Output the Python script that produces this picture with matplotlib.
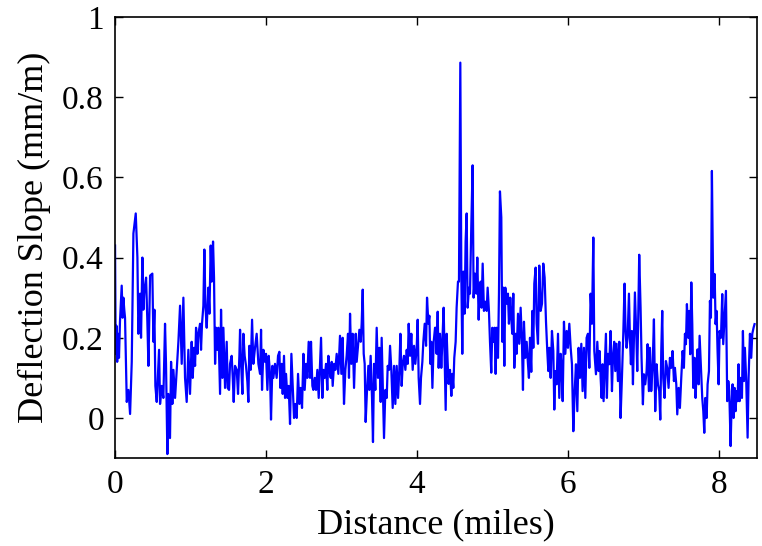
import matplotlib
matplotlib.use("Agg")
import matplotlib.pyplot as plt
import numpy as np

# distance (miles) and deflection slope (mm/m)
distance = [
    0.000, 0.008, 0.018, 0.028, 0.040, 0.052, 0.065, 0.078, 0.088, 0.100,
    0.110, 0.122, 0.132, 0.155, 0.177, 0.199, 0.221, 0.243, 0.274, 0.296,
    0.309, 0.331, 0.344, 0.362, 0.375, 0.389, 0.411, 0.428, 0.442, 0.464,
    0.494, 0.508, 0.521, 0.534, 0.552, 0.583, 0.596, 0.618, 0.640, 0.662,
    0.675, 0.693, 0.706, 0.728, 0.742, 0.759, 0.773, 0.795, 0.817, 0.839,
    0.861, 0.883, 0.905, 0.927, 0.949, 0.971, 0.993,
    1.015, 1.029, 1.046, 1.060, 1.073, 1.091, 1.104, 1.126, 1.139, 1.152,
    1.170, 1.183, 1.197, 1.214, 1.236, 1.250, 1.267, 1.280, 1.298, 1.311,
    1.325, 1.338, 1.355, 1.369, 1.391, 1.404, 1.422, 1.435, 1.457, 1.479,
    1.492, 1.510, 1.523, 1.545, 1.559, 1.572, 1.589, 1.612, 1.629, 1.647,
    1.656, 1.669, 1.687, 1.700, 1.717, 1.735, 1.753, 1.766, 1.779, 1.797,
    1.815, 1.832, 1.854, 1.876, 1.899, 1.921, 1.934, 1.947, 1.965, 1.987,
    2.000, 2.018, 2.035, 2.053, 2.066, 2.084, 2.097, 2.119,
    2.141, 2.159, 2.177, 2.190, 2.208, 2.221, 2.238, 2.252, 2.265, 2.283,
    2.300, 2.318, 2.336, 2.353, 2.371, 2.389, 2.406, 2.424, 2.442, 2.459,
    2.477, 2.495, 2.512, 2.530, 2.547, 2.565, 2.583, 2.596, 2.614, 2.627,
    2.645, 2.662, 2.680, 2.698, 2.715, 2.729, 2.746, 2.759, 2.777, 2.795,
    2.812, 2.826, 2.839, 2.857, 2.870, 2.883, 2.901, 2.918, 2.936, 2.958,
    2.980, 2.998, 3.015, 3.033, 3.051, 3.068, 3.086, 3.099, 3.113, 3.130,
    3.148, 3.166,
    3.188, 3.201, 3.219, 3.237, 3.254, 3.267, 3.281, 3.294, 3.307, 3.320,
    3.338, 3.356, 3.369, 3.386, 3.404, 3.417, 3.431, 3.448, 3.466, 3.484,
    3.501, 3.519, 3.532, 3.550, 3.563, 3.581, 3.599, 3.612, 3.630, 3.643,
    3.660, 3.678, 3.696, 3.713, 3.731, 3.749, 3.766, 3.780, 3.797, 3.811,
    3.828, 3.846, 3.864, 3.877, 3.890, 3.908, 3.925, 3.943, 3.961, 3.978,
    3.996, 4.009, 4.022, 4.040, 4.053, 4.071, 4.084, 4.102, 4.120, 4.133,
    4.151, 4.164, 4.177, 4.190, 4.204, 4.221, 4.239,
    4.247, 4.260, 4.274, 4.287, 4.305, 4.322, 4.335, 4.353, 4.366, 4.380,
    4.393, 4.406, 4.419, 4.437, 4.455, 4.468, 4.481, 4.494, 4.512, 4.525,
    4.543, 4.556, 4.574, 4.587, 4.600, 4.614, 4.631, 4.644, 4.658, 4.671,
    4.689, 4.702, 4.719, 4.737, 4.750, 4.768, 4.786, 4.799, 4.817, 4.830,
    4.843, 4.856, 4.870, 4.887, 4.905, 4.923, 4.936, 4.953, 4.967, 4.984,
    4.998, 5.011, 5.029, 5.042, 5.055, 5.073, 5.086, 5.099, 5.117, 5.130,
    5.143, 5.157, 5.170, 5.187, 5.205, 5.218, 5.236, 5.249, 5.262, 5.276,
    5.289,
    5.307, 5.320, 5.338, 5.355, 5.373, 5.391, 5.404, 5.417, 5.435, 5.453,
    5.470, 5.483, 5.497, 5.514, 5.528, 5.541, 5.554, 5.572, 5.585, 5.603,
    5.620, 5.638, 5.656, 5.673, 5.691, 5.709, 5.726, 5.740, 5.753, 5.771,
    5.788, 5.806, 5.819, 5.832, 5.850, 5.868, 5.885, 5.903, 5.916, 5.930,
    5.947, 5.965, 5.983, 6.000, 6.018, 6.036, 6.053, 6.071, 6.089, 6.106,
    6.124, 6.141, 6.159, 6.177, 6.194, 6.212, 6.230, 6.247, 6.265, 6.283,
    6.300, 6.318, 6.336, 6.349,
    6.371, 6.389, 6.406, 6.419, 6.433, 6.446, 6.459, 6.472, 6.490, 6.503,
    6.516, 6.530, 6.547, 6.565, 6.583, 6.596, 6.613, 6.627, 6.644, 6.662,
    6.680, 6.697, 6.715, 6.733, 6.750, 6.763, 6.777, 6.790, 6.808, 6.821,
    6.834, 6.847, 6.861, 6.874, 6.887, 6.905, 6.918, 6.931, 6.944, 6.962,
    6.975, 6.993, 7.006, 7.024, 7.042, 7.055, 7.072, 7.086, 7.103, 7.121,
    7.139, 7.156, 7.174, 7.192, 7.209, 7.223, 7.236, 7.249, 7.262, 7.280,
    7.298, 7.315, 7.333, 7.351, 7.368, 7.386, 7.404,
    7.417, 7.435, 7.448, 7.466, 7.483, 7.501, 7.519, 7.536, 7.550, 7.563,
    7.576, 7.594, 7.607, 7.620, 7.634, 7.647, 7.660, 7.678, 7.691, 7.704,
    7.717, 7.731, 7.744, 7.762, 7.779, 7.793, 7.806, 7.819, 7.837, 7.850,
    7.868, 7.881, 7.894, 7.907, 7.925, 7.943, 7.956, 7.969, 7.982, 7.996,
    8.009, 8.027, 8.044, 8.057, 8.075, 8.093, 8.110, 8.124, 8.137, 8.155,
    8.168, 8.181, 8.194, 8.208, 8.221, 8.234, 8.247, 8.260, 8.274, 8.287,
    8.305, 8.318, 8.331, 8.344, 8.362, 8.380, 8.393, 8.411, 8.428, 8.442,
    8.459, 8.472,
]

slope = [
    0.43, 0.16, 0.23, 0.14, 0.21, 0.15, 0.24, 0.29, 0.33, 0.25,
    0.30, 0.27, 0.25, 0.04, 0.07, 0.01, 0.14, 0.46, 0.51, 0.40,
    0.21, 0.31, 0.20, 0.40, 0.27, 0.32, 0.35, 0.24, 0.13, 0.355,
    0.36, 0.19, 0.27, 0.08, 0.04, 0.17, 0.035, 0.08, 0.05, 0.235,
    0.135, -0.09, 0.06, -0.05, 0.14, 0.035, 0.12, 0.05, 0.12, 0.19,
    0.28, 0.135, 0.30, 0.10, 0.04, 0.17, 0.06,
    0.19, 0.10, 0.175, 0.13, 0.225, 0.16, 0.21, 0.235, 0.17, 0.235,
    0.28, 0.42, 0.28, 0.225, 0.325, 0.26, 0.43, 0.34, 0.44, 0.35,
    0.135, 0.225, 0.17, 0.225, 0.06, 0.27, 0.10, 0.225, 0.075, 0.19,
    0.075, 0.07, 0.135, 0.155, 0.10, 0.04, 0.13, 0.12, 0.06, 0.155,
    0.22, 0.14, 0.06, 0.21, 0.155, 0.13, 0.09, 0.04, 0.18, 0.12,
    0.245, 0.135, 0.175, 0.21, 0.135, 0.11, 0.22, 0.07, 0.17, 0.14,
    0.16, 0.07, 0.155, 0.11, -0.004, 0.13, 0.10, 0.135,
    0.10, 0.155, 0.165, 0.075, 0.135, 0.06, 0.155, 0.05, 0.11, 0.05,
    0.08, -0.015, 0.16, 0.08, 0.0, 0.035, 0.0, 0.11, 0.035, 0.075,
    0.025, 0.16, 0.07, 0.135, 0.10, 0.19, 0.10, 0.19, 0.08, 0.07,
    0.10, 0.07, 0.12, 0.05, 0.135, 0.20, 0.05, 0.12, 0.10, 0.135,
    0.07, 0.155, 0.12, 0.10, 0.14, 0.08, 0.135, 0.12, 0.16, 0.11,
    0.205, 0.11, 0.20, 0.035, 0.12, 0.155, 0.21, 0.10, 0.26, 0.135,
    0.21, 0.075,
    0.21, 0.14, 0.18, 0.22, 0.19, 0.235, 0.32, 0.16, 0.135, -0.01,
    0.07, 0.13, 0.07, 0.155, 0.05, -0.06, 0.135, 0.07, 0.225, 0.10,
    0.175, 0.04, 0.20, 0.06, -0.05, 0.07, 0.05, 0.13, 0.12, 0.18,
    0.12, 0.025, 0.13, 0.035, 0.13, 0.05, 0.12, 0.21, 0.08, 0.135,
    0.155, 0.12, 0.17, 0.135, 0.235, 0.155, 0.21, 0.12, 0.18, 0.135,
    0.175, 0.245, 0.10, 0.035, 0.10, 0.14, 0.19, 0.235, 0.18, 0.30,
    0.235, 0.255, 0.135, 0.19, 0.075, 0.19, 0.225,
    0.225, 0.16, 0.265, 0.125, 0.21, 0.125, 0.185, 0.275, 0.15, 0.02,
    0.21, 0.14, 0.085, 0.12, 0.055, 0.11, 0.075, 0.15, 0.19, 0.275,
    0.34, 0.34, 0.886, 0.36, 0.16, 0.365, 0.26, 0.44, 0.51, 0.275,
    0.325, 0.31, 0.475, 0.63, 0.30, 0.36, 0.31, 0.40, 0.245, 0.325,
    0.34, 0.275, 0.385, 0.267, 0.29, 0.267, 0.325, 0.267, 0.19, 0.113,
    0.225, 0.19, 0.225, 0.11, 0.225, 0.15, 0.31, 0.565, 0.50, 0.19,
    0.325, 0.13, 0.325, 0.285, 0.31, 0.235, 0.30, 0.25, 0.21, 0.31,
    0.125,
    0.21, 0.16, 0.26, 0.185, 0.275, 0.185, 0.07, 0.24, 0.15, 0.19,
    0.135, 0.10, 0.20, 0.115, 0.267, 0.175, 0.335, 0.375, 0.235, 0.185,
    0.38, 0.267, 0.285, 0.385, 0.35, 0.24, 0.167, 0.117, 0.175, 0.10,
    0.217, 0.167, 0.021, 0.117, 0.084, 0.21, 0.05, 0.16, 0.125, 0.042,
    0.24, 0.16, 0.217, 0.175, 0.235, 0.175, 0.134, -0.033, 0.067, 0.134,
    0.017, 0.175, 0.10, 0.185, 0.067, 0.175, 0.05, 0.20, 0.21, 0.125,
    0.31, 0.235, 0.45, 0.167,
    0.109, 0.19, 0.117, 0.167, 0.10, 0.05, 0.134, 0.042, 0.142, 0.21,
    0.05, 0.16, 0.134, 0.217, 0.067, 0.15, 0.19, 0.117, 0.185, 0.092,
    0.19, 0.0, 0.10, 0.21, 0.335, 0.217, 0.175, 0.20, 0.31, 0.20,
    0.134, 0.217, 0.084, 0.20, 0.313, 0.21, 0.117, 0.25, 0.407, 0.275,
    0.15, 0.034, 0.109, 0.084, 0.117, 0.184, 0.067, 0.175, 0.067, 0.125,
    0.246, 0.017, 0.134, 0.084, 0.067, -0.004, 0.167, 0.267, 0.10, 0.05,
    0.142, 0.125, 0.075, 0.15, 0.125, 0.167, 0.092,
    0.125, 0.084, 0.009, 0.075, 0.025, 0.10, 0.167, 0.125, 0.21, 0.184,
    0.284, 0.20, 0.267, 0.159, 0.338, 0.234, 0.075, 0.15, 0.05, 0.117,
    0.171, 0.084, 0.205, 0.125, 0.05, 0.017, -0.037, 0.05, 0.0, 0.084,
    0.117, 0.292, 0.25, 0.616, 0.30, 0.359, 0.234, 0.267, 0.167, 0.084,
    0.217, 0.20, 0.309, 0.184, 0.25, 0.317, 0.042, 0.092, 0.067, -0.07,
    0.034, 0.084, 0.0, 0.075, 0.017, 0.067, 0.042, 0.134, 0.042, 0.10,
    0.05, 0.217, 0.092, 0.175, 0.092, -0.049, 0.10, 0.21, 0.15, 0.21,
    0.225, 0.234,
]

x_ticks = [0, 2, 4, 6, 8]
y_ticks = [0, 0.2, 0.4, 0.6, 0.8, 1]
y_tick_labels = ['0', '0.2', '0.4', '0.6', '0.8', '1']

plt.rcParams['font.family'] = ['Liberation Serif', 'DejaVu Serif']

fig = plt.figure(figsize=(7.62, 5.46), dpi=100)
ax = fig.add_axes([0.151, 0.161, 0.842, 0.808])

ax.plot(distance, slope, color='#0000ff', linewidth=1.6)

ax.set_xlim(0, 8.5)
ax.set_ylim(-0.1, 1)
ax.set_xticks(x_ticks)
ax.set_xticklabels([str(t) for t in x_ticks])
ax.set_yticks(y_ticks)
ax.set_yticklabels(y_tick_labels)
ax.tick_params(direction='in', top=True, right=True, length=6, width=1,
               labelsize=24, pad=8)
for s in ax.spines.values():
    s.set_linewidth(1.2)

ax.set_xlabel('Distance (miles)', fontsize=26, labelpad=6)
ax.set_ylabel('Deflection Slope (mm/m)', fontsize=26, labelpad=8)

fig.savefig('out.png', dpi=100)
